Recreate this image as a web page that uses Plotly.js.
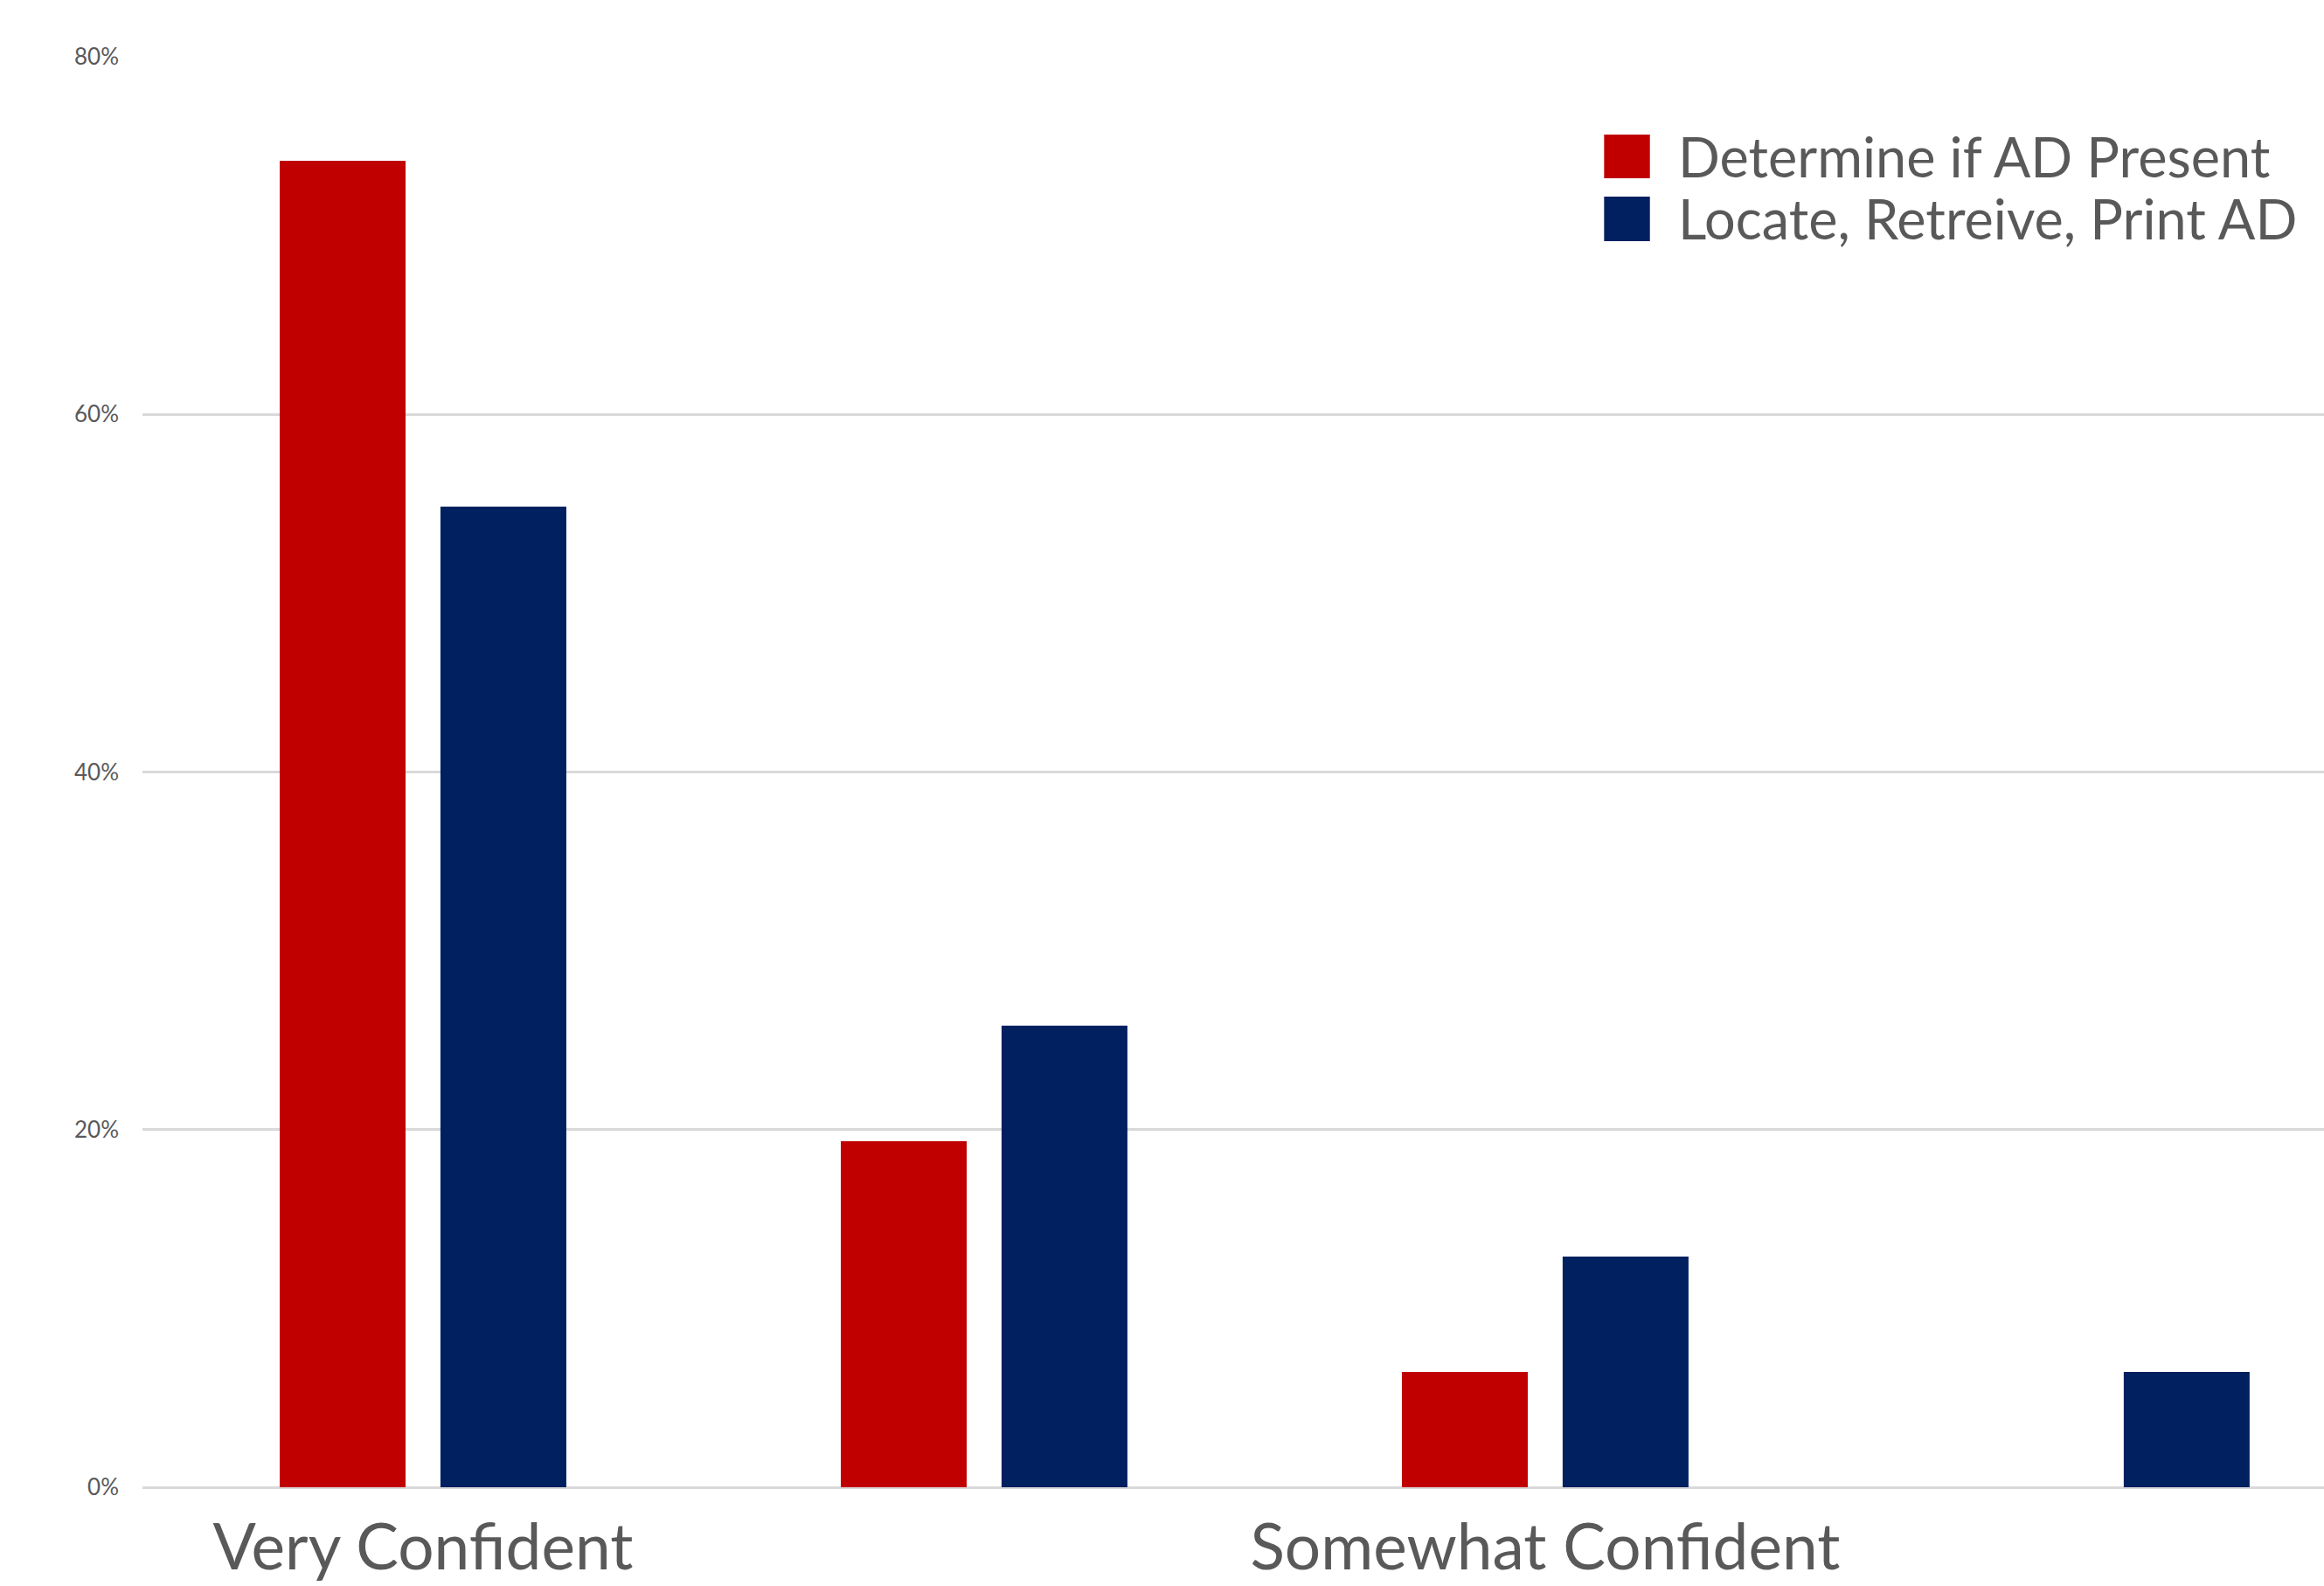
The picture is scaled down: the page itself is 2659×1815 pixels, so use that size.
<!DOCTYPE html>
<html>
<head>
<meta charset="utf-8">
<script src="https://cdn.plot.ly/plotly-3.0.1.min.js"></script>
<style>html,body{margin:0;padding:0;background:#fff;overflow:hidden}</style>
</head>
<body>
<div id="chart" style="width:2659px;height:1815px"></div>
<script>
// Data (percent of respondents)
const categories = ["Very Confident", "Confident", "Somewhat Confident", "Not Confident"];
const shownTickLabels = ["Very Confident", "Somewhat Confident"];
const seriesNames = ["Determine if AD Present", "Locate, Retreive, Print AD"];
const determineValues = [74.19, 19.35, 6.45, 0];
const locateValues = [54.84, 25.81, 12.90, 6.45];
const yTicks = [0, 20, 40, 60, 80];
const yTickLabels = ["0%", "20%", "40%", "60%", "80%"];

const colors = ["#C00000", "#002060"];
const textColor = "#595959";
const font = "Lato, 'Open Sans', sans-serif";

const traces = [
  {type: "bar", name: seriesNames[0], x: categories, y: determineValues,
   marker: {color: colors[0]}, hoverinfo: "skip"},
  {type: "bar", name: seriesNames[1], x: categories, y: locateValues,
   marker: {color: colors[1]}, hoverinfo: "skip"}
];

// custom legend (large squares like the original)
const legendX0 = 0.670, legendX1 = 0.691, legendTextX = 0.703;
const legendRows = [[0.9456, 0.9151, 0.9304], [0.9023, 0.8711, 0.887]];
const shapes = [], annotations = [];
seriesNames.forEach((n, i) => {
  const r = legendRows[i];
  shapes.push({type: "rect", xref: "paper", yref: "paper", x0: legendX0, x1: legendX1,
    y0: r[1], y1: r[0], fillcolor: colors[i], line: {width: 0}});
  annotations.push({xref: "paper", yref: "paper", x: legendTextX, y: r[2], text: n,
    showarrow: false, xanchor: "left", yanchor: "middle",
    font: {family: font, size: 63, color: textColor}});
});

const layout = {
  width: 2659, height: 1815,
  margin: {l: 163, r: 0, t: 65, b: 113, pad: 0},
  paper_bgcolor: "#fff", plot_bgcolor: "#fff",
  showlegend: false,
  barmode: "group", bargap: 0.427, bargroupgap: 0.217,
  xaxis: {
    type: "category", range: [-0.5, 3.388],
    tickmode: "array", tickvals: shownTickLabels, ticktext: shownTickLabels,
    showgrid: false, showline: false, ticks: "",
    tickfont: {family: font, size: 73, color: textColor},
    ticklabelstandoff: 20
  },
  yaxis: {
    range: [0, 80], tickmode: "array", tickvals: yTicks, ticktext: yTickLabels,
    showline: false, ticks: "",
    gridcolor: "#d9d9d9", gridwidth: 3,
    zeroline: true, zerolinecolor: "#d9d9d9", zerolinewidth: 3,
    tickfont: {family: font, size: 26, color: textColor},
    ticklabelstandoff: 26
  },
  shapes: shapes,
  annotations: annotations
};

Plotly.newPlot("chart", traces, layout, {displayModeBar: false, staticPlot: true});
</script>
</body>
</html>
